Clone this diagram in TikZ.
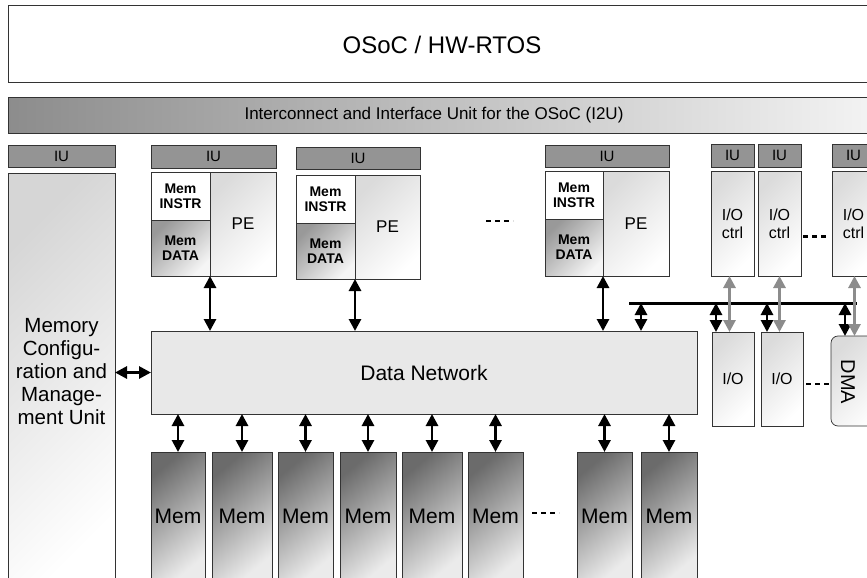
\documentclass[tikz,border=0pt]{standalone}
\usepackage{fontspec}
\setmainfont{Liberation Sans}
\usetikzlibrary{arrows.meta,calc}

\begin{document}
\begin{tikzpicture}[x=1pt,y=-1pt,
  box/.style={draw=black!80,line width=0.7pt,inner sep=0pt,outer sep=0pt,align=center,anchor=north west},
  iu/.style={box,fill=black!42,font=\fontsize{15}{15}\selectfont},
  light/.style={box,top color=black!14,bottom color=white,shading angle=45},
  memd/.style={box,top color=black!40,bottom color=black!4,shading angle=45,font=\fontsize{14}{15}\selectfont\bfseries},
  memi/.style={box,fill=white,font=\fontsize{14}{15}\selectfont\bfseries},
  mem/.style={box,top color=black!58,bottom color=black!8,shading angle=40,font=\fontsize{21}{21}\selectfont},
  biarrow/.style={{Triangle[length=12pt,width=12pt]}-{Triangle[length=12pt,width=12pt]},line width=2.8pt},
  gap/.style={line width=2.6pt,dash pattern=on 5pt off 4pt}]
\useasboundingbox[fill=white] (0,0) rectangle (867,578);
\clip (0,0) rectangle (867,578);
%top
\node[box,line width=1pt,minimum width=880,minimum height=76] (osoc) at (8,6) {};
\node[font=\fontsize{24}{24}\selectfont] (osoctext) at (442,45) {OSoC / HW-RTOS};
\node[box,left color=black!45,right color=black!4,minimum width=880,minimum height=36] (i2u) at (8,97) {};
\node[font=\fontsize{17}{17}\selectfont] (i2utext) at (434,115) {Interconnect and Interface Unit for the OSoC (I2U)};
%memory management
\node[iu,minimum width=107,minimum height=22] (iu0) at (8,145) {IU};
\node[box,top color=black!16,bottom color=white,shading angle=45,minimum width=107,minimum height=420] (mcmu) at (8,173) {};
\node[align=center,font=\fontsize{20.5}{23}\selectfont] (mcmutext) at (61.5,372) {Memory\\Configu-\\ration and\\Manage-\\ment Unit};
%processing elements
\node[iu,minimum width=125,minimum height=23] (iu1) at (151,145) {IU};
\node[memi,minimum width=59,minimum height=48] (instr1) at (151,172) {Mem\\INSTR};
\node[memd,minimum width=59,minimum height=56] (data1) at (151,220) {Mem\\DATA};
\node[light,minimum width=66,minimum height=104,font=\fontsize{17}{17}\selectfont] (pe1) at (210,172) {PE};
    \node[iu,minimum width=124,minimum height=22] (iu2) at (296,147) {IU};
    \node[memi,minimum width=59,minimum height=48] (instr2) at (296,175) {Mem\\INSTR};
    \node[memd,minimum width=59,minimum height=56] (data2) at (296,223) {Mem\\DATA};
    \node[light,minimum width=65,minimum height=104,font=\fontsize{17}{17}\selectfont] (pe2) at (355,175) {PE};
	\node[iu,minimum width=124,minimum height=22] (iu3) at (545,145) {IU};
	\node[memi,minimum width=58,minimum height=48] (instr3) at (545,171) {Mem\\INSTR};
	\node[memd,minimum width=58,minimum height=57] (data3) at (545,219) {Mem\\DATA};
	\node[light,minimum width=66,minimum height=105,font=\fontsize{17}{17}\selectfont] (pe3) at (603,171) {PE};
\draw[gap] (486,221) -- (513,221);
%io controllers
\node[iu,minimum width=43,minimum height=23] (iuc1) at (711,144) {IU};
\node[light,minimum width=43,minimum height=105,font=\fontsize{16}{18}\selectfont] (ioc1) at (711,171) {I/O\\ctrl};
\node[iu,minimum width=43,minimum height=23] (iuc2) at (758,144) {IU};
\node[light,minimum width=43,minimum height=105,font=\fontsize{16}{18}\selectfont] (ioc2) at (758,171) {I/O\\ctrl};
\node[iu,minimum width=43,minimum height=23] (iuc3) at (832,144) {IU};
\node[light,minimum width=43,minimum height=105,font=\fontsize{16}{18}\selectfont] (ioc3) at (832,171) {I/O\\ctrl};
\draw[gap] ([xshift=2pt,yshift=-13pt]ioc2.east) -- ([xshift=-4pt,yshift=-13pt]ioc2.east -| ioc3.west);
%data network
\node[box,fill=black!9,minimum width=546,minimum height=83,font=\fontsize{21}{21}\selectfont] (net) at (151,331) {Data Network};
\draw[biarrow] (data1.south east) -- (data1.south east |- net.north);
\draw[biarrow] (data2.south east) -- (data2.south east |- net.north);
\draw[biarrow] (data3.south east) -- (data3.south east |- net.north);
\draw[biarrow] (mcmu.east |- net.west) -- (net.west);
%io bus
\coordinate (busl) at (629,303);
\coordinate (busr) at (857,303);
\coordinate (bustap) at (641,303);
\draw[line width=3pt] (busl) -- (busr);
\draw[biarrow] (bustap) -- (bustap |- net.north);
\node[light,minimum width=42,minimum height=94,font=\fontsize{16}{16}\selectfont] (io1) at (712,332) {I/O};
\node[light,minimum width=42,minimum height=94,font=\fontsize{16}{16}\selectfont] (io2) at (761,332) {I/O};
\node[light,rounded corners=7pt,minimum width=60,minimum height=90] (dma) at (831,336) {};
\node[rotate=-90,font=\fontsize{20}{20}\selectfont] (dmatext) at (848,382) {DMA};
\draw[gap] ([xshift=3pt,yshift=-5pt]io2.east) -- ([yshift=-5pt]io2.east -| dma.west);
\draw[biarrow] ([xshift=4pt]io1.north west) -- ([xshift=4pt]io1.north west |- busl);
\draw[biarrow] ([xshift=6pt]io2.north west) -- ([xshift=6pt]io2.north west |- busl);
\draw[biarrow] ([xshift=14pt]dma.north west) -- ([xshift=14pt]dma.north west |- busl);
\draw[biarrow,black!45] ([xshift=-3pt]ioc1.south) -- ([xshift=-3pt]ioc1.south |- io1.north);
\draw[biarrow,black!45] (ioc2.south) -- (ioc2.south |- io2.north);
\draw[biarrow,black!45] ([xshift=1pt]ioc3.south) -- ([xshift=1pt]ioc3.south |- dma.north);
%memories
\node[mem,minimum width=54,minimum height=128] (mem1) at (151,452) {Mem};
\node[mem,minimum width=60,minimum height=128] (mem2) at (212,452) {Mem};
\node[mem,minimum width=55,minimum height=128] (mem3) at (278,452) {Mem};
\node[mem,minimum width=56,minimum height=128] (mem4) at (340,452) {Mem};
\node[mem,minimum width=60,minimum height=128] (mem5) at (402,452) {Mem};
\node[mem,minimum width=55,minimum height=128] (mem6) at (468,452) {Mem};
\node[mem,minimum width=55,minimum height=128] (mem7) at (577,452) {Mem};
\node[mem,minimum width=56,minimum height=128] (mem8) at (641,452) {Mem};
\draw[gap] (532,513) -- (559,513);
\draw[biarrow] (mem1.north) -- (mem1.north |- net.south);
\draw[biarrow] (mem2.north) -- (mem2.north |- net.south);
\draw[biarrow] (mem3.north) -- (mem3.north |- net.south);
\draw[biarrow] (mem4.north) -- (mem4.north |- net.south);
\draw[biarrow] (mem5.north) -- (mem5.north |- net.south);
\draw[biarrow] (mem6.north) -- (mem6.north |- net.south);
\draw[biarrow] (mem7.north) -- (mem7.north |- net.south);
\draw[biarrow] (mem8.north) -- (mem8.north |- net.south);
\end{tikzpicture}
\end{document}
